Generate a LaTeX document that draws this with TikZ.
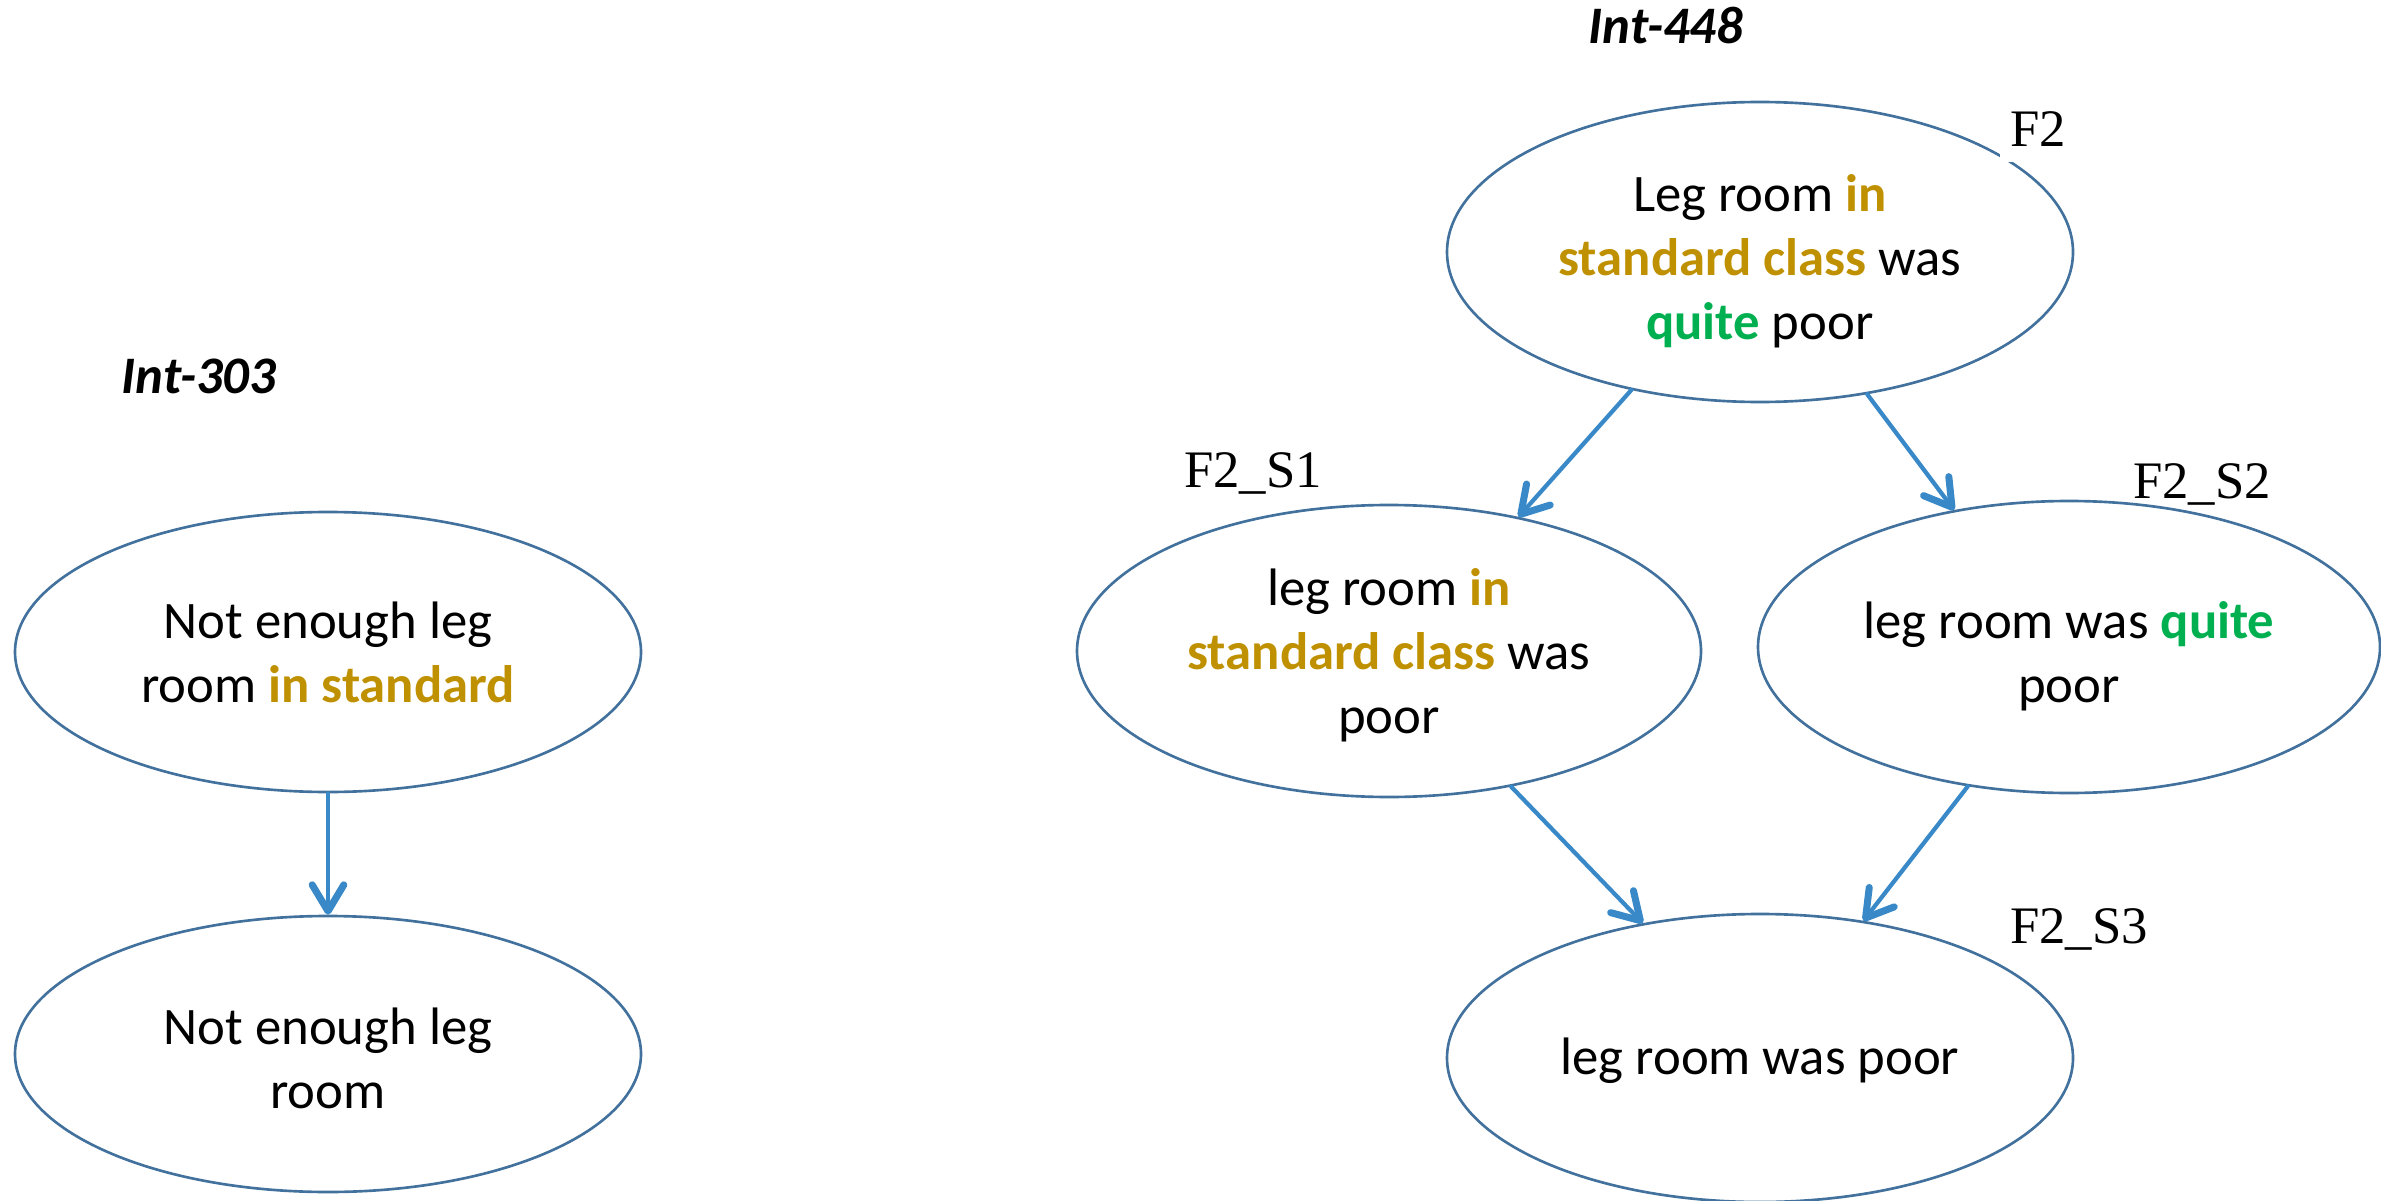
\documentclass[tikz,border=0pt]{standalone}
\usepackage{fontspec}
\setmainfont{Carlito}
\newfontfamily\labelfont{Liberation Serif}
\usetikzlibrary{shapes.geometric,arrows.meta}

\definecolor{rimblue}{RGB}{65,113,156}
\definecolor{linkblue}{RGB}{57,137,200}
\definecolor{golden}{RGB}{191,144,0}
\definecolor{leafgreen}{RGB}{0,176,80}

\newcommand{\gd}[1]{\textbf{\textcolor{golden}{#1}}}
\newcommand{\gr}[1]{\textbf{\textcolor{leafgreen}{#1}}}

\tikzset{
  ell/.style={ellipse, draw=rimblue, line width=0.75pt, inner sep=0pt,
    minimum width=6.26cm},
  txt/.style={align=center, inner sep=0pt,
    font=\fontsize{15}{18.2}\selectfont},
  link/.style={draw=linkblue, line width=1.2pt, line cap=round,
    -{Straight Barb[length=7.5pt, width=9pt, line width=2pt, round]}},
  tag/.style={font=\labelfont\fontsize{15}{18}\selectfont, anchor=base,
    inner sep=0.06cm},
  heading/.style={font=\fontsize{15}{18}\selectfont\bfseries\itshape, anchor=base}
}

\begin{document}
\begin{tikzpicture}
\useasboundingbox (0,0) rectangle (23.81,-12.01);

% left pair
\node[heading] (t303) at (1.99,-3.93) {Int-303};
\node[ell, minimum height=2.80cm] (l1) at (3.28,-6.52) {};
\node[txt] (l1t) at (3.28,-6.52) {Not enough leg\\room \gd{in standard}};
\node[ell, minimum height=2.76cm] (l2) at (3.28,-10.54) {};
\node[txt] (l2t) at (3.28,-10.585) {Not enough leg\\room};
\draw[link] (l1.south) -- (l2.north);

% right lattice
\node[heading] (t448) at (16.66,-0.44) {Int-448};
\node[ell, minimum height=3.00cm] (f2) at (17.60,-2.52) {};
\node[txt] (f2t) at (17.60,-2.61)
  {Leg room \gd{in}\\\gd{standard class} was\\\gr{quite} poor};
\node[ell, minimum height=2.92cm, minimum width=6.24cm] (s1) at (13.89,-6.51) {};
\node[txt] (s1t) at (13.89,-6.555)
  {leg room \gd{in}\\\gd{standard class} was\\poor};
\node[ell, minimum height=2.92cm, minimum width=6.22cm] (s2) at (20.69,-6.47) {};
\node[txt] (s2t) at (20.69,-6.56) {leg room was \gr{quite}\\poor};
\node[ell, minimum height=2.88cm] (s3) at (17.60,-10.58) {};
\node[txt] (s3t) at (17.60,-10.61) {leg room was poor};

\draw[link] (f2.227.6) -- (s1.46.3);
\draw[link] (f2.307) -- (s2.130);
\draw[link] (s1.312.3) -- (s3.131.7);
\draw[link] (s2.234.2) -- (s3.53.3);

% labels
\node[tag, fill=white, inner xsep=0.1cm, inner ysep=0.15cm] (lf2) at (20.38,-1.47) {F2};
\node[tag] (ls1) at (12.53,-4.87) {F2\_S1};
\node[tag] (ls2) at (22.02,-4.98) {F2\_S2};
\node[tag] (ls3) at (20.79,-9.43) {F2\_S3};
\end{tikzpicture}
\end{document}
